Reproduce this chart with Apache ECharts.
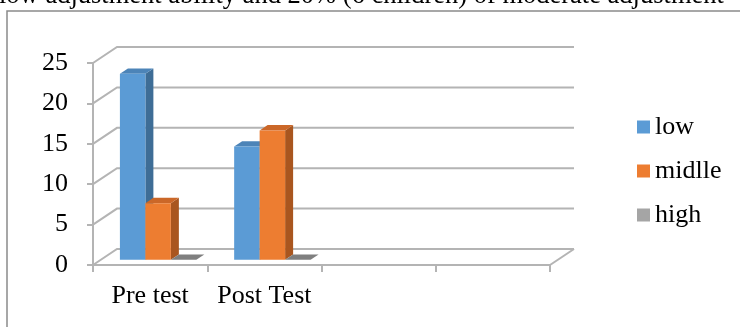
<!DOCTYPE html>
<html>
<head>
<meta charset="utf-8">
<script src="https://cdn.jsdelivr.net/npm/echarts@6/dist/echarts.min.js"></script>
<style>
  html, body { margin: 0; padding: 0; background: #fff; }
  #chart { width: 740px; height: 327px; }
</style>
</head>
<body>
<div id="chart"></div>
<script>
// Adjustment ability of children, before and after the programme
const categories = ['Pre test', 'Post Test', '', ''];
const low = [23, 14];
const midlle = [7, 16];
const high = [0, 0];
const yTicks = [0, 5, 10, 15, 20, 25];
const caption = 'low adjustment ability and 20% (6 children) of moderate adjustment';

const SERIF = "'Liberation Serif', 'Times New Roman', serif";
const FS = 26;

// 3-D look: wall depth and bar depth in pixels
const WALL_DX = 24, WALL_DY = -16;
const BAR_OFF_DX = 8, BAR_OFF_DY = -5.3;
const BAR_DX = 8, BAR_DY = -5.3;

const palette = [
  { front: '#5B9BD5', side: '#3E6D96', top: '#4C84B8' },
  { front: '#ED7D31', side: '#A9561F', top: '#CB6728' },
  { front: '#A5A5A5', side: '#737373', top: '#7F7F7F' }
];

function renderWalls(params, api) {
  const band = api.size([1, 0])[0];
  const left = api.coord([0, 0])[0] - band / 2;
  const right = api.coord([categories.length - 1, 0])[0] + band / 2;
  const y0 = api.coord([0, 0])[1];
  const style = { stroke: '#b4b4b4', lineWidth: 2, fill: null };
  const children = [];
  yTicks.forEach(function (v) {
    const y = api.coord([0, v])[1];
    children.push({ type: 'polyline', shape: { points: [[left, y], [left + WALL_DX, y + WALL_DY], [right + WALL_DX, y + WALL_DY]] }, style: style });
  });
  // right edge of the floor
  children.push({ type: 'line', shape: { x1: right, y1: y0, x2: right + WALL_DX, y2: y0 + WALL_DY }, style: style });
  return { type: 'group', children: children };
}

function makeBarRenderer(idx) {
  return function (params, api) {
    const cat = api.value(0);
    const val = api.value(1);
    const band = api.size([1, 0])[0];
    const w = band * 0.223;
    const center = api.coord([cat, 0])[0];
    const x0 = center - 1.5 * w + idx * w + BAR_OFF_DX;
    const yb = api.coord([cat, 0])[1] + BAR_OFF_DY;
    const yt = api.coord([cat, val])[1] + BAR_OFF_DY;
    const c = palette[idx];
    return {
      type: 'group',
      children: [
        { type: 'polygon', shape: { points: [[x0 + w, yt], [x0 + w + BAR_DX, yt + BAR_DY], [x0 + w + BAR_DX, yb + BAR_DY], [x0 + w, yb]] }, style: { fill: c.side } },
        { type: 'polygon', shape: { points: [[x0, yt], [x0 + w, yt], [x0 + w + BAR_DX, yt + BAR_DY], [x0 + BAR_DX, yt + BAR_DY]] }, style: { fill: c.top } },
        { type: 'rect', shape: { x: x0, y: yt, width: w, height: yb - yt }, style: { fill: c.front } }
      ]
    };
  };
}

function barData(values) {
  return values.map(function (v, i) { return [i, v]; });
}

const chart = echarts.init(document.getElementById('chart'), null, { renderer: 'canvas' });
chart.setOption({
  animation: false,
  textStyle: { fontFamily: SERIF },
  grid: { left: 93, right: 190, top: 63, bottom: 62 },
  graphic: [
    { type: 'rect', shape: { x: 7, y: 11, width: 760, height: 340 }, style: { fill: null, stroke: '#8a8a8a', lineWidth: 1.5 }, silent: true },
    { type: 'text', left: -1, top: -17, style: { text: caption, font: "26.5px 'Liberation Serif', serif", fill: '#000' }, silent: true }
  ],
  legend: {
    orient: 'vertical',
    left: 632,
    top: 109,
    itemWidth: 13,
    itemHeight: 13,
    itemGap: 18,
    icon: 'rect',
    textStyle: { fontSize: FS, fontFamily: SERIF, color: '#000' },
    data: ['low', 'midlle', 'high']
  },
  xAxis: {
    type: 'category',
    data: categories,
    axisLine: { show: true, lineStyle: { color: '#b4b4b4', width: 2 } },
    axisTick: { show: true, interval: 0, length: 7, lineStyle: { color: '#b4b4b4', width: 2 } },
    axisLabel: { interval: 0, fontSize: FS, fontFamily: SERIF, color: '#000', margin: 18 }
  },
  yAxis: {
    type: 'value',
    min: 0, max: 25, interval: 5,
    axisLine: { show: true, lineStyle: { color: '#b4b4b4', width: 2 } },
    axisTick: { show: true, length: 6, lineStyle: { color: '#b4b4b4', width: 2 } },
    axisLabel: { fontSize: FS, fontFamily: SERIF, color: '#000', margin: 25 },
    splitLine: { show: false }
  },
  series: [
    { type: 'custom', name: 'walls', renderItem: renderWalls, data: [[0, 0]], silent: true, z: 1 },
    { type: 'custom', name: 'low', renderItem: makeBarRenderer(0), data: barData(low), itemStyle: { color: palette[0].front }, z: 2 },
    { type: 'custom', name: 'midlle', renderItem: makeBarRenderer(1), data: barData(midlle), itemStyle: { color: palette[1].front }, z: 3 },
    { type: 'custom', name: 'high', renderItem: makeBarRenderer(2), data: barData(high), itemStyle: { color: palette[2].front }, z: 4 }
  ]
});
</script>
</body>
</html>
